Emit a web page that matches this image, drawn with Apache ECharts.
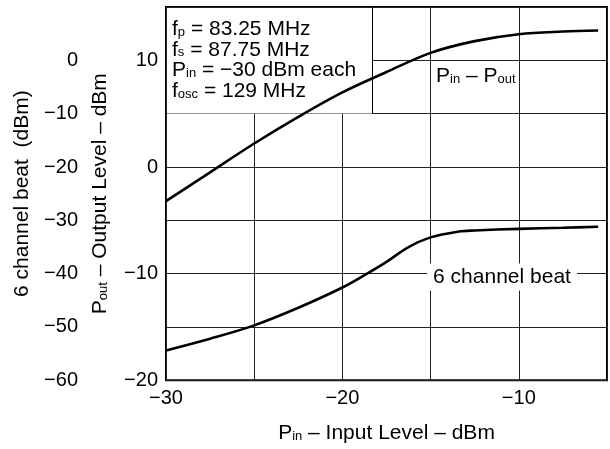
<!DOCTYPE html>
<html>
<head>
<meta charset="utf-8">
<script src="https://cdn.jsdelivr.net/npm/echarts@6/dist/echarts.min.js"></script>
<style>
  html, body { margin: 0; padding: 0; background: #fff; }
  #chart { width: 610px; height: 449px; }
</style>
</head>
<body>
<div id="chart"></div>
<script>
// Pin - Pout curve (x = input level dBm, y = output level dBm)
const pinPout = [-30, -27.5, -25, -22.5, -20, -17.5, -15, -12.5, -10, -7.5, -5.5];
const pout    = [-3.2, -0.5, 2.2, 4.7, 7.0, 8.9, 10.7, 11.8, 12.45, 12.7, 12.8];

// 6 channel beat curve (dBm)
const pinBeat = [-30, -27.5, -25, -22.5, -20, -18.6, -17.5, -16.3, -15, -13.4, -12.5, -10, -7.5, -5.5];
const beat    = [-54.4, -52.2, -49.7, -46.4, -42.6, -40, -37.8, -35.1, -33.2, -32.1, -31.9, -31.6, -31.4, -31.2];

const xTicks = [-30, -20, -10];
const beatTicks = [0, -10, -20, -30, -40, -50, -60];
const poutTicks = [10, 0, -10, -20];

const FONT = 'Liberation Sans, Arial, Helvetica, sans-serif';
const FS = 21;
const minus = v => (v < 0 ? '\u2212' + Math.abs(v) : String(v));
const big = { fontSize: FS, fontFamily: FONT, color: '#000', lineHeight: 20.7, verticalAlign: 'bottom' };
const sub = { fontSize: 13, fontFamily: FONT, color: '#000', lineHeight: 20.7, verticalAlign: 'bottom', padding: [0, 0, 1, 0] };
const tickLabel = { margin: 8, fontSize: 20, fontFamily: FONT, color: '#000' };
const gridLine = { show: true, lineStyle: { color: '#222', width: 1 } };

const chart = echarts.init(document.getElementById('chart'), null, { renderer: 'canvas' });

const option = {
  animation: false,
  backgroundColor: '#fff',
  grid: {
    left: 166, right: 2, top: 7, bottom: 68,
    show: true, borderColor: '#000', borderWidth: 2, backgroundColor: 'transparent'
  },
  xAxis: {
    type: 'value', min: -30, max: -5, interval: 5,
    name: '{b|P}{s|in}{b| \u2013 Input Level \u2013 dBm}',
    nameLocation: 'middle', nameGap: 43,
    nameTextStyle: { rich: { b: big, s: sub } },
    axisLine: { show: false }, axisTick: { show: false },
    axisLabel: Object.assign({}, tickLabel, { formatter: v => (xTicks.includes(v) ? minus(v) : '') }),
    splitLine: gridLine
  },
  yAxis: [
    {
      type: 'value', min: -60, max: 10, interval: 10, position: 'left', offset: 80,
      name: '6 channel beat  (dBm)', nameLocation: 'middle', nameGap: 51,
      nameTextStyle: { fontSize: FS, fontFamily: FONT, color: '#000' },
      axisLine: { show: false }, axisTick: { show: false },
      axisLabel: Object.assign({}, tickLabel, { formatter: v => (beatTicks.includes(v) ? minus(v) : '') }),
      splitLine: gridLine
    },
    {
      type: 'value', min: -20, max: 15, interval: 5, position: 'left', offset: 0,
      name: '{b|P}{s|out}{b| \u2013 Output Level \u2013 dBm}', nameLocation: 'middle', nameGap: 55,
      nameTextStyle: { rich: { b: big, s: sub } },
      axisLine: { show: false }, axisTick: { show: false },
      axisLabel: Object.assign({}, tickLabel, { formatter: v => (poutTicks.includes(v) ? minus(v) : '') }),
      splitLine: { show: false }
    }
  ],
  graphic: [
    // conditions box (white, hides grid behind it)
    { type: 'rect', z: 5, shape: { x: 167, y: 8, width: 205, height: 105.5 }, style: { fill: '#fff' } },
    { type: 'line', z: 5, shape: { x1: 372.5, y1: 7, x2: 372.5, y2: 114 }, style: { stroke: '#000', lineWidth: 1 } },
    {
      type: 'text', z: 6, x: 172, y: 19,
      style: {
        text: '{n|f}{s|p}{n| = 83.25 MHz}\n{n|f}{s|s}{n| = 87.75 MHz}\n{n|P}{s|in}{n| = \u221230 dBm each}\n{n|f}{s|osc}{n| = 129 MHz}',
        rich: { n: big, s: sub }
      }
    },
    {
      type: 'text', z: 6, x: 436, y: 66,
      style: { text: '{n|P}{s|in}{n| \u2013 P}{s|out}', rich: { n: big, s: sub } }
    },
    {
      type: 'text', z: 6, x: 502, y: 277,
      style: {
        text: '6 channel beat', fontSize: FS, fontFamily: FONT, fill: '#000',
        align: 'center', verticalAlign: 'middle',
        backgroundColor: '#fff', padding: [3, 6]
      }
    }
  ],
  series: [
    {
      name: 'Pin - Pout', type: 'line', yAxisIndex: 1, z: 10,
      data: pinPout.map((x, i) => [x, pout[i]]),
      smooth: 0.35, showSymbol: false,
      lineStyle: { color: '#000', width: 2.6 }
    },
    {
      name: '6 channel beat', type: 'line', yAxisIndex: 0, z: 10,
      data: pinBeat.map((x, i) => [x, beat[i]]),
      smooth: 0.35, showSymbol: false,
      lineStyle: { color: '#000', width: 2.6 }
    }
  ]
};

chart.setOption(option);
</script>
</body>
</html>
